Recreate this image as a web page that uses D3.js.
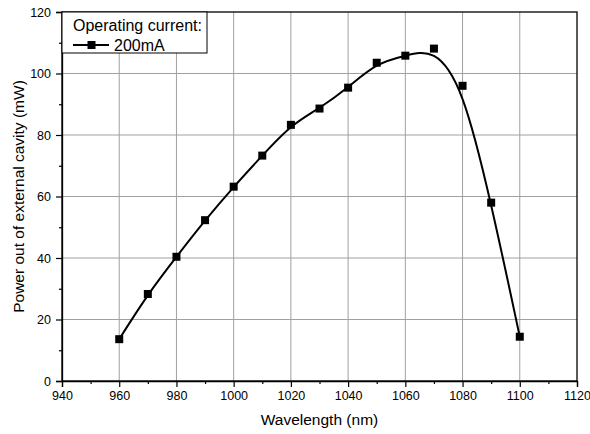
<!DOCTYPE html>
<html>
<head>
<meta charset="utf-8">
<script src="https://cdn.jsdelivr.net/npm/d3@7"></script>
<style>
  body { margin: 0; background: #fff; }
  text { font-family: "Liberation Sans", Arial, sans-serif; fill: #000; }
</style>
</head>
<body>
<div id="chart"></div>
<script>
const width = 590;
const height = 434;
const margin = { top: 12, right: 13, bottom: 53, left: 62 };

const wavelengths = [960, 970, 980, 990, 1000, 1010, 1020, 1030, 1040, 1050, 1060, 1070, 1080, 1090, 1100];
const power = [13.6, 28.3, 40.4, 52.3, 63.2, 73.3, 83.3, 88.6, 95.4, 103.5, 105.8, 108.1, 96.0, 58.0, 14.4];
const xTicks = [940, 960, 980, 1000, 1020, 1040, 1060, 1080, 1100, 1120];
const yTicks = [0, 20, 40, 60, 80, 100, 120];

const data = wavelengths.map((w, i) => ({ x: w, y: power[i] }));

const svg = d3.select("#chart")
  .append("svg")
  .attr("width", width)
  .attr("height", height);

const x = d3.scaleLinear().domain([940, 1120]).range([margin.left, width - margin.right]);
const y = d3.scaleLinear().domain([0, 120]).range([height - margin.bottom, margin.top]);

const x0 = margin.left, x1 = width - margin.right;
const y0 = height - margin.bottom, y1 = margin.top;

// grid
svg.append("g")
  .selectAll("line.gx")
  .data(xTicks.slice(1, -1))
  .enter().append("line")
  .attr("x1", d => x(d)).attr("x2", d => x(d))
  .attr("y1", y0).attr("y2", y1)
  .attr("stroke", "#a0a0a0").attr("stroke-width", 1);

svg.append("g")
  .selectAll("line.gy")
  .data(yTicks.slice(1, -1))
  .enter().append("line")
  .attr("x1", x0).attr("x2", x1)
  .attr("y1", d => y(d)).attr("y2", d => y(d))
  .attr("stroke", "#a0a0a0").attr("stroke-width", 1);

// axes
svg.append("g")
  .attr("transform", `translate(0,${y0})`)
  .call(d3.axisBottom(x).tickValues(xTicks).tickFormat(d3.format("d")).tickSize(6).tickPadding(4));

svg.append("g")
  .attr("transform", `translate(0,${y0})`)
  .call(d3.axisBottom(x).tickValues(d3.range(950, 1120, 20)).tickFormat("").tickSize(3))
  .call(g => g.select(".domain").remove());

svg.append("g")
  .attr("transform", `translate(${x0},0)`)
  .call(d3.axisLeft(y).tickValues(yTicks).tickSize(6).tickPadding(5));

svg.append("g")
  .attr("transform", `translate(${x0},0)`)
  .call(d3.axisLeft(y).tickValues(d3.range(10, 120, 20)).tickFormat("").tickSize(3))
  .call(g => g.select(".domain").remove());

svg.selectAll(".tick text").attr("font-size", "12.5px").attr("font-family", "Liberation Sans, Arial, sans-serif");
svg.selectAll(".tick line").attr("stroke-width", 1.2);
svg.selectAll(".domain").attr("stroke-width", 1.3);

// frame
svg.append("rect")
  .attr("x", x0).attr("y", y1)
  .attr("width", x1 - x0).attr("height", y0 - y1)
  .attr("fill", "none").attr("stroke", "#000").attr("stroke-width", 1.3);

// curve
const line = d3.line()
  .x(d => x(d.x))
  .y(d => y(d.y))
  .curve(d3.curveBasis);

svg.append("path")
  .datum(data)
  .attr("d", line)
  .attr("fill", "none")
  .attr("stroke", "#000")
  .attr("stroke-width", 2);

svg.selectAll("rect.pt")
  .data(data)
  .enter().append("rect")
  .attr("class", "pt")
  .attr("x", d => x(d.x) - 4)
  .attr("y", d => y(d.y) - 4)
  .attr("width", 8).attr("height", 8)
  .attr("fill", "#000");

// axis titles
svg.append("text")
  .attr("x", (x0 + x1) / 2)
  .attr("y", 425)
  .attr("text-anchor", "middle")
  .attr("font-size", "15.5px")
  .text("Wavelength (nm)");

svg.append("text")
  .attr("transform", `translate(24,${(y0 + y1) / 2}) rotate(-90)`)
  .attr("text-anchor", "middle")
  .attr("font-size", "15.5px")
  .text("Power out of external cavity (mW)");

// legend
const legend = svg.append("g");
legend.append("rect")
  .attr("x", x0).attr("y", y1)
  .attr("width", 145).attr("height", 41)
  .attr("fill", "#fff").attr("stroke", "#000").attr("stroke-width", 1);

legend.append("text")
  .attr("x", 73).attr("y", 31)
  .attr("font-size", "16px")
  .text("Operating current:");

legend.append("line")
  .attr("x1", 73).attr("x2", 109)
  .attr("y1", 45).attr("y2", 45)
  .attr("stroke", "#000").attr("stroke-width", 2);

legend.append("rect")
  .attr("x", 87.5).attr("y", 41)
  .attr("width", 8).attr("height", 8)
  .attr("fill", "#000");

legend.append("text")
  .attr("x", 114).attr("y", 51)
  .attr("font-size", "16px")
  .text("200mA");
</script>
</body>
</html>
